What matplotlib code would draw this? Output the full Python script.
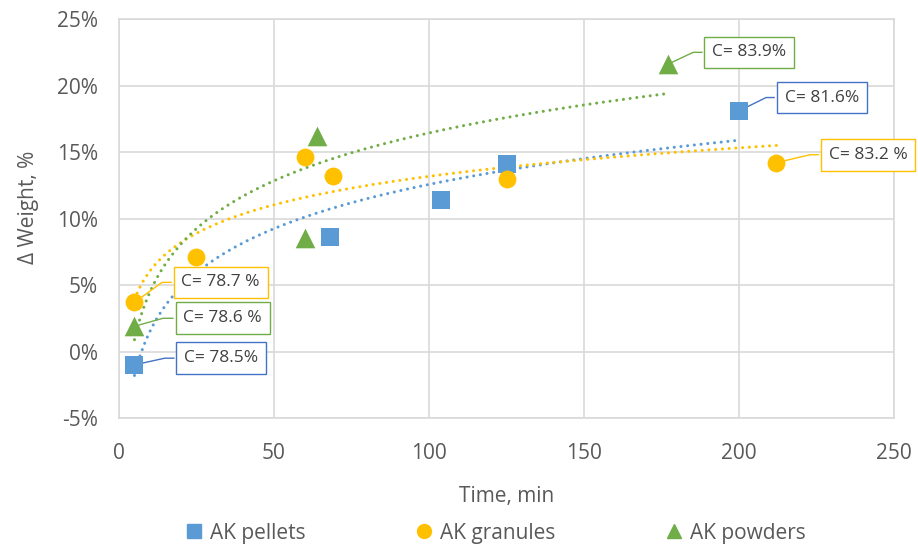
import numpy as np
import matplotlib.pyplot as plt
from matplotlib.lines import Line2D

plt.rcParams['font.family'] = ['Open Sans', 'DejaVu Sans']

# weight change (%) against time (min) for each activated carbon form
pellets_t = [5, 68, 104, 125, 200]
pellets_w = [-1.0, 8.6, 11.4, 14.1, 18.1]
granules_t = [5, 25, 60, 69, 125, 212]
granules_w = [3.7, 7.1, 14.6, 13.2, 13.0, 14.2]
powders_t = [5, 60, 64, 177]
powders_w = [1.9, 8.5, 16.2, 21.6]

# conversion at the first and the last sample
pellets_c = ["C= 78.5%", "C= 81.6%"]
granules_c = ["C= 78.7 %", "C= 83.2 %"]
powders_c = ["C= 78.6 %", "C= 83.9%"]

x_ticks = [0, 50, 100, 150, 200, 250]
y_ticks = [-5, 0, 5, 10, 15, 20, 25]

BLUE, GOLD, GREEN = "#5B9BD5", "#FFC000", "#70AD47"
TXT = "#404040"
GREY = "#595959"

series = [
    ("AK pellets", pellets_t, pellets_w, pellets_c, BLUE, "#4472C4", "s",
     [(17.7, -0.5, 14.8), (211.3, 19.1, 208.7)]),
    ("AK granules", granules_t, granules_w, granules_c, GOLD, GOLD, "o",
     [(16.8, 5.2, 13.9), (225.5, 14.8, 222.9)]),
    ("AK powders", powders_t, powders_w, powders_c, GREEN, GREEN, "^",
     [(17.4, 2.5, 14.2), (188.0, 22.5, 185.2)]),
]

fig = plt.figure(figsize=(9.18, 5.45), dpi=100)
ax = fig.add_axes([0.1296, 0.233, 0.8444, 0.732])

handles = []
for name, t, w, labels, color, edge, marker, spots in series:
    t = np.array(t, dtype=float)
    w = np.array(w, dtype=float)
    # logarithmic trendline
    a, b = np.polyfit(np.log(t), w, 1)
    tt = np.linspace(t.min(), t.max(), 200)
    ax.plot(tt, a * np.log(tt) + b, color=color, lw=2.2,
            linestyle=(0, (0.01, 2.2)), dash_capstyle="round", zorder=2)
    ax.scatter(t, w, s=165 if marker != "^" else 200, marker=marker,
               color=color, linewidths=0, zorder=4)

    # callouts for first and last point
    for lab, idx, (bx, by, ex) in zip(labels, [0, -1], spots):
        px, py = t[idx], w[idx]
        ax.plot([px, ex, bx], [py, by, by], color=edge, lw=1, zorder=3)
        ax.annotate(lab, xy=(bx, by), xytext=(7.5, 0), textcoords="offset points",
                    ha="left", va="center", fontsize=12.5, color=TXT, zorder=5,
                    bbox=dict(boxstyle="square,pad=0.45", fc="white",
                              ec=edge, lw=1))

    handles.append(Line2D([], [], ls="none", marker=marker, color=color,
                          markersize=10, label=name))

ax.set_xlim(0, 250)
ax.set_ylim(-5, 25)
ax.set_xticks(x_ticks)
ax.set_yticks(y_ticks)
ax.set_yticklabels([f"{v}%" for v in y_ticks])
ax.grid(True, color="#D9D9D9", lw=1.2)
ax.set_axisbelow(True)
for s in ax.spines.values():
    s.set_color("#D9D9D9")
    s.set_linewidth(1.2)
ax.tick_params(length=0, labelsize=15, labelcolor=GREY)
ax.tick_params(axis="x", pad=18)
ax.tick_params(axis="y", pad=15)

ax.set_xlabel("Time, min", fontsize=15, color=GREY)
ax.set_ylabel("Δ Weight, %", fontsize=15, color=GREY)
ax.xaxis.set_label_coords(0.5, -0.17)
ax.yaxis.set_label_coords(-0.103, 0.529)

fig.legend(handles=handles, loc="center", ncol=3, frameon=False,
           fontsize=15, labelcolor=GREY, handletextpad=0.35,
           columnspacing=5.3, bbox_to_anchor=(0.54, 0.022), handlelength=0.8)

fig.savefig("out.png", dpi=100)
